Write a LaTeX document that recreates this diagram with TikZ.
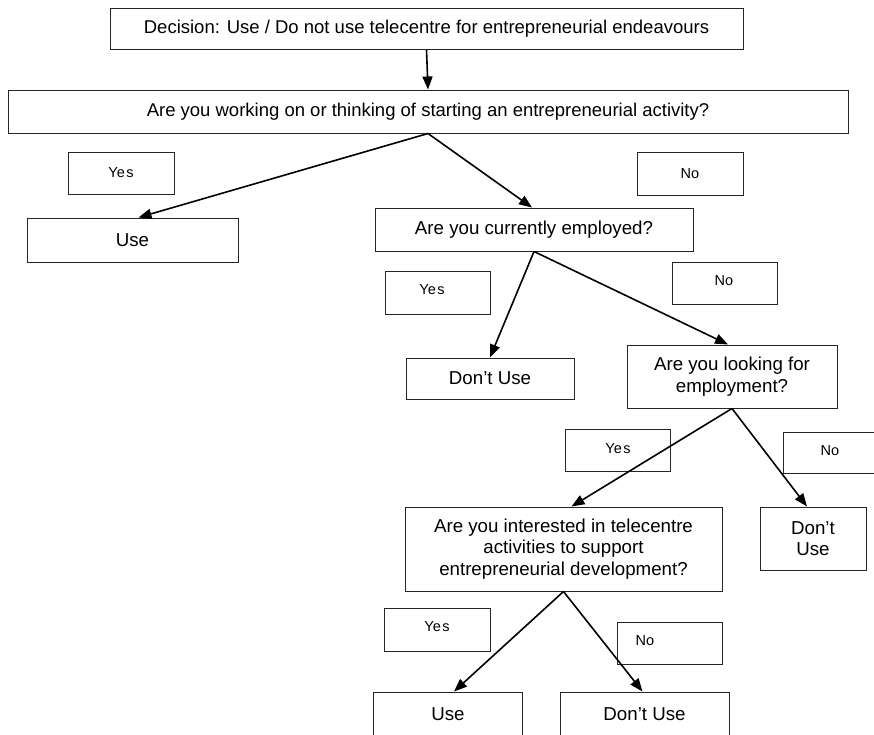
\documentclass[tikz,border=0pt]{standalone}
\usepackage{fontspec}
\setmainfont{Liberation Sans}
\usetikzlibrary{arrows.meta}
\tikzset{
  box/.style={draw=black!85, line width=1pt, inner sep=0pt, align=center, anchor=center},
  bigtext/.style={font=\fontsize{18.7}{21.5}\selectfont},
  toptext/.style={font=\fontsize{18.5}{21}\selectfont},
  lbltext/.style={font=\fontsize{14.5}{16}\selectfont},
  lbl/.style={draw=black!85, line width=1pt, inner sep=0pt, align=center, anchor=center, lbltext},
  arr/.style={line width=1.6pt, -{Triangle[length=13pt,width=10pt]}}
}
\begin{document}
\begin{tikzpicture}[x=1pt,y=-1pt]
\useasboundingbox (0,0) rectangle (874,734);
\clip (0,0) rectangle (874,734);
% main boxes
\node[box,toptext,minimum width=633pt,minimum height=41pt] (dec) at (426.5,28.5) {Decision: Use / Do not use telecentre for entrepreneurial endeavours};
\node[box,toptext,minimum width=840pt,minimum height=43pt] (q1) at (428,111.5) {Are you working on or thinking of starting an entrepreneurial activity?};
\node[box,bigtext,minimum width=211pt,minimum height=44pt] (use1) at (132.5,240) {Use};
\node[box,bigtext,minimum width=318pt,minimum height=43pt] (q2) at (534,229.5) {Are you currently employed?};
\node[box,bigtext,minimum width=168pt,minimum height=41pt] (dnu1) at (490,378.5) {Don’t Use};
\node[box,bigtext,minimum width=210pt,minimum height=63pt] (q3) at (732,376.5) {Are you looking for\\employment?};
\node[box,bigtext,minimum width=317pt,minimum height=84pt] (q4) at (563.5,549) {Are you interested in telecentre\\activities to support\\entrepreneurial development?};
\node[box,bigtext,minimum width=106pt,minimum height=63pt] (dnu2) at (813,538.5) {Don’t\\Use};
\node[box,minimum width=149pt,minimum height=50pt] (use2) at (448,717) {};
\node[bigtext] (use2t) at (448,714) {Use};
\node[box,minimum width=169pt,minimum height=50pt] (dnu3) at (644.5,717) {};
\node[bigtext] (dnu3t) at (644.5,714) {Don’t Use};
% labels
\node[lbl,minimum width=106pt,minimum height=42pt] (y1) at (121,173) {Ye\hspace{1.5pt}s};
\node[lbl,minimum width=106pt,minimum height=43pt] (n1) at (690,173.5) {No};
\node[lbl,minimum width=105pt,minimum height=43pt] (y2) at (437.5,293) {};
\node[lbltext] (y2t) at (432,290) {Ye\hspace{1.5pt}s};
\node[lbl,minimum width=105pt,minimum height=42pt] (n2) at (724.5,283) {};
\node[lbltext] (n2t) at (724,281) {No};
\node[lbl,minimum width=105pt,minimum height=42pt] (y3) at (617.5,450) {};
\node[lbltext] (y3t) at (618,449) {Ye\hspace{1.5pt}s};
\node[lbl,minimum width=110pt,minimum height=41pt] (n3) at (838,452.5) {};
\node[lbltext] (n3t) at (830,451) {No};
\node[lbl,minimum width=106pt,minimum height=43pt] (y4) at (437,629.5) {};
\node[lbltext] (y4t) at (437,627) {Ye\hspace{1.5pt}s};
\node[lbl,minimum width=105pt,minimum height=42pt] (n4) at (669.5,643) {};
\node[lbltext] (n4t) at (645,641) {No};
% connectors
\draw[arr] (dec.south) -- (q1.north);
\draw[arr] (q1.south) -- ([xshift=6pt]use1.north);
\draw[arr] (q1.south) -- ([xshift=-2pt]q2.north);
\draw[arr] (q2.south) -- (dnu1.north);
\draw[arr] (q2.south) -- ([xshift=-4pt]q3.north);
\draw[arr] (q3.south) -- ([xshift=8pt]q4.north);
\draw[arr] (q3.south) -- ([xshift=-6pt]dnu2.north);
\draw[arr] (q4.south) -- ([xshift=6pt]use2.north);
\draw[arr] (q4.south) -- ([xshift=-2pt]dnu3.north);
\end{tikzpicture}
\end{document}
